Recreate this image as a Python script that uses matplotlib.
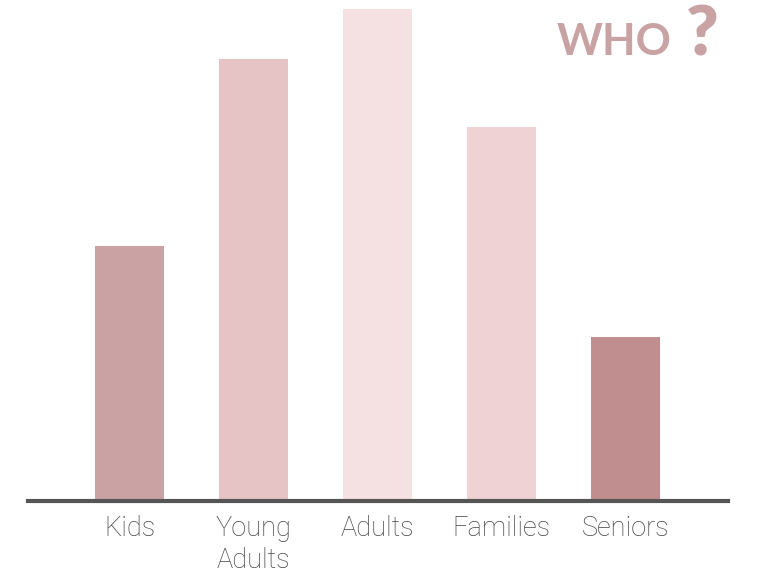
import matplotlib.pyplot as plt

# audience groups and bar heights
categorias = ["Kids", "Young\nAdults", "Adults", "Families", "Seniors"]
valores = [255, 442, 492, 374, 164]
colores = ["#CBA2A3", "#E6C4C5", "#F5E1E2", "#EFD3D4", "#C08E8F"]

fig = plt.figure(figsize=(7.58, 5.74), dpi=100)
ax = fig.add_axes([28 / 758, 73 / 574, 700 / 758, 501 / 574])

x = list(range(len(categorias)))
ax.bar(x, valores, width=0.556, color=colores, zorder=2)

ax.set_xlim(-0.819, 4.827)
ax.set_ylim(0, 501)

for lado in ["top", "right", "left"]:
    ax.spines[lado].set_visible(False)
ax.spines["bottom"].set_color("#555555")
ax.spines["bottom"].set_linewidth(3)
ax.spines["bottom"].set_zorder(3)

ax.set_yticks([])
ax.set_xticks(x)
ax.set_xticklabels(categorias, fontsize=19.5, color="#444444",
                   family="Roboto", fontweight="light", linespacing=1.25)
ax.tick_params(axis="x", length=0, pad=10)

# titulo en la esquina
fig.text(557 / 758, 1 - 55 / 574, "WHO", fontsize=31.5, fontweight="bold",
         family="Lato", color="#C9A3A4", ha="left", va="baseline")
fig.text(686 / 758, 1 - 55 / 574, "?", fontsize=50, fontweight="heavy",
         family="Lato", color="#C9A3A4", ha="left", va="baseline")

fig.savefig("out.png", dpi=100)
